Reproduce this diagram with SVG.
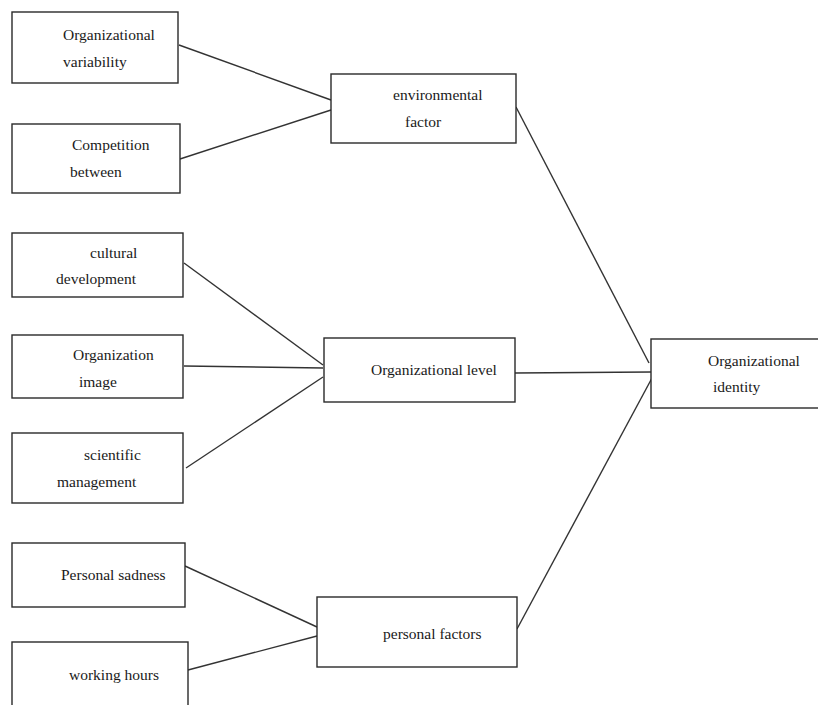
<svg xmlns="http://www.w3.org/2000/svg" width="818" height="705" viewBox="0 0 818 705">
<style>
.box{fill:#fff;stroke:#2a2a2a;stroke-width:1.4}
.t{font-family:"Liberation Serif","Times New Roman",serif;font-size:15.5px;fill:#1a1a1a}
.c line{stroke:#333;stroke-width:1.4}
</style>
<rect width="818" height="705" fill="#fff"/>
<g class="c" id="connectors">
<line x1="179" y1="45" x2="331" y2="100"/>
<line x1="180" y1="159" x2="331" y2="110"/>
<line x1="184" y1="263" x2="323" y2="365"/>
<line x1="184" y1="366" x2="323" y2="368"/>
<line x1="186" y1="468" x2="323" y2="377"/>
<line x1="185" y1="566" x2="317" y2="627"/>
<line x1="188" y1="670" x2="317" y2="636"/>
<line x1="516" y1="107" x2="649" y2="363"/>
<line x1="515" y1="373" x2="651" y2="372"/>
<line x1="517" y1="629" x2="652" y2="378"/>
</g>
<g id="n1"><rect class="box" x="12" y="12" width="166" height="71"/><text class="t" x="63" y="40">Organizational</text><text class="t" x="63" y="67">variability</text></g>
<g id="n2"><rect class="box" x="12" y="124" width="168" height="69"/><text class="t" x="72" y="150">Competition</text><text class="t" x="70" y="177">between</text></g>
<g id="n3"><rect class="box" x="12" y="233" width="171" height="64"/><text class="t" x="90" y="258">cultural</text><text class="t" x="56" y="284">development</text></g>
<g id="n4"><rect class="box" x="12" y="335" width="171" height="63"/><text class="t" x="73" y="360">Organization</text><text class="t" x="79" y="387">image</text></g>
<g id="n5"><rect class="box" x="12" y="433" width="171" height="70"/><text class="t" x="84" y="460">scientific</text><text class="t" x="57" y="487">management</text></g>
<g id="n6"><rect class="box" x="12" y="543" width="173" height="64"/><text class="t" x="61" y="580">Personal sadness</text></g>
<g id="n7"><rect class="box" x="12" y="642" width="176" height="70"/><text class="t" x="69" y="680">working hours</text></g>
<g id="n8"><rect class="box" x="331" y="74" width="185" height="69"/><text class="t" x="393" y="100">environmental</text><text class="t" x="405" y="127">factor</text></g>
<g id="n9"><rect class="box" x="324" y="338" width="191" height="64"/><text class="t" x="371" y="375">Organizational level</text></g>
<g id="n10"><rect class="box" x="317" y="597" width="200" height="70"/><text class="t" x="383" y="639">personal factors</text></g>
<g id="n11"><rect class="box" x="651" y="339" width="175" height="69"/><text class="t" x="708" y="366">Organizational</text><text class="t" x="713" y="392">identity</text></g>
</svg>
